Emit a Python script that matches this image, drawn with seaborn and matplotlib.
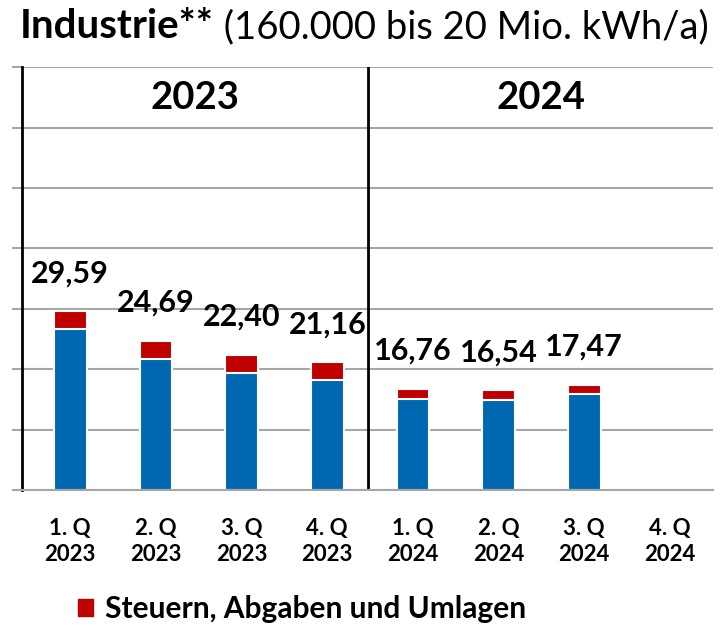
import matplotlib
matplotlib.use("Agg")
import matplotlib.pyplot as plt
import seaborn as sns
import numpy as np
import pandas as pd
from matplotlib.patches import Patch

categories = ["1. Q\n2023", "2. Q\n2023", "3. Q\n2023", "4. Q\n2023",
              "1. Q\n2024", "2. Q\n2024", "3. Q\n2024", "4. Q\n2024"]
totals = [29.59, 24.69, 22.40, 21.16, 16.76, 16.54, 17.47, np.nan]
base_price = [26.60, 21.74, 19.42, 18.20, 15.12, 14.90, 15.84, np.nan]
year_labels = ["2023", "2024"]
legend_label = "Steuern, Abgaben und Umlagen"

BLUE = "#0068B0"
RED = "#C00000"
GRID = "#A6A6A6"

sns.set_theme(style="white")
plt.rcParams['font.family'] = ['Lato', 'DejaVu Sans']
plt.rcParams['text.color'] = 'black'
plt.rcParams['xtick.color'] = 'black'

df = pd.DataFrame({"cat": categories, "total": totals, "base": base_price})

fig = plt.figure(figsize=(7.23, 6.28), dpi=100)
ax = fig.add_axes([0.0304, 0.2197, 0.9554, 0.6731])

ax.set_ylim(0, 70)
ax.set_yticks(np.arange(0, 71, 10))
ax.yaxis.grid(True, color=GRID, linewidth=1.5)
ax.set_axisbelow(True)

sns.barplot(data=df, x="cat", y="total", order=categories, color=RED,
            saturation=1, width=0.38, edgecolor="white", linewidth=1.5, ax=ax)
sns.barplot(data=df, x="cat", y="base", order=categories, color=BLUE,
            saturation=1, width=0.38, edgecolor="white", linewidth=1.5, ax=ax)

ax.set_xlim(-0.564, 7.5)
ax.set_xlabel("")
ax.set_ylabel("")

for i, t in enumerate(totals):
    if not np.isnan(t):
        ax.text(i, t + 6.3, f"{t:.2f}".replace(".", ","), ha="center", va="center",
                fontsize=22, fontweight="bold", color="black")

# year divider and year labels
ax.axvline(3.48, color="black", linewidth=2)
ax.text(1.46, 65, year_labels[0], ha="center", va="center", fontsize=27.5,
        fontweight="bold", color="black")
ax.text(5.49, 65, year_labels[1], ha="center", va="center", fontsize=27.5,
        fontweight="bold", color="black")

for s in ["top", "right"]:
    ax.spines[s].set_visible(False)
ax.spines["left"].set_color("black")
ax.spines["left"].set_linewidth(2)
ax.spines["bottom"].set_color(GRID)
ax.spines["bottom"].set_linewidth(1.5)

ax.tick_params(axis="y", left=True, length=7, color=GRID, width=1.5, labelleft=False)
ax.tick_params(axis="x", bottom=False, length=0, pad=20)
for lbl in ax.get_xticklabels():
    lbl.set_fontsize(16)
    lbl.set_fontweight("bold")
    lbl.set_linespacing(1.3)
    lbl.set_color("black")

# title
fig.text(20/723, 1 - 27/628, "Industrie**", fontsize=29, fontweight="bold",
         ha="left", va="center", color="black")
t1 = fig.texts[-1]
fig.canvas.draw()
bb = t1.get_window_extent()
fig.text(bb.x1 / fig.bbox.width, 1 - 27/628, " (160.000 bis 20 Mio. kWh/a)", fontsize=27.5,
         ha="left", va="center", color="black")

fig.legend(handles=[Patch(facecolor=RED, edgecolor=RED)], labels=[legend_label],
           loc="center left", bbox_to_anchor=(51/723, 1 - 609/628), frameon=False,
           handlelength=0.5, handleheight=0.5, handletextpad=0.4,
           prop={"family": "Lato", "weight": "bold", "size": 21.5})

fig.savefig("out.png", dpi=100)
